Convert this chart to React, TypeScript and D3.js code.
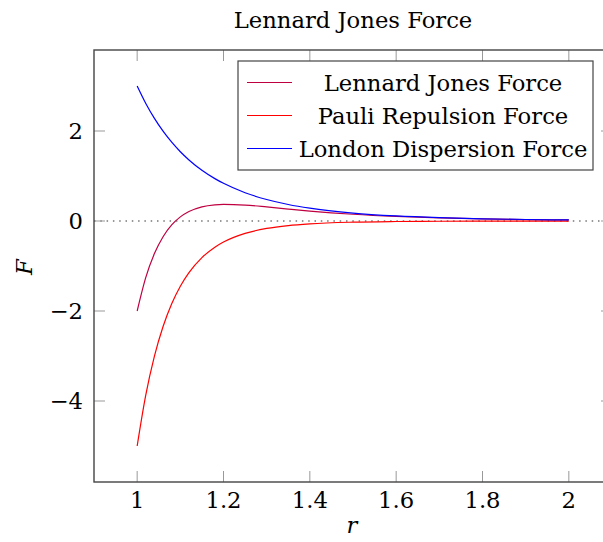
import React, {useEffect, useRef} from 'react';
import * as d3 from 'd3';

const rValues = [1.00, 1.02, 1.04, 1.06, 1.08, 1.10, 1.12, 1.15, 1.18, 1.20, 1.25, 1.30, 1.35, 1.40, 1.50, 1.60, 1.70, 1.80, 1.90, 2.00];
const ljForce = [-2.0, -1.2535, -0.7231, -0.349, -0.088, 0.0912, 0.2112, 0.3152, 0.3604, 0.3699, 0.3542, 0.313, 0.266, 0.2216, 0.1499, 0.1007, 0.0681, 0.0466, 0.0324, 0.0228];
const pauliForce = [-5.0, -3.8651, -3.0029, -2.3442, -1.8385, -1.4483, -1.1459, -0.8126, -0.5814, -0.4673, -0.2749, -0.1651, -0.1011, -0.063, -0.0257, -0.0111, -0.005, -0.0024, -0.0012, -0.0006];
const londonForce = [3.0, 2.6117, 2.2798, 1.9952, 1.7505, 1.5395, 1.3571, 1.1278, 0.9418, 0.8372, 0.6291, 0.4781, 0.3671, 0.2846, 0.1756, 0.1118, 0.0731, 0.049, 0.0336, 0.0234];

const seriesNames = ['Lennard Jones Force', 'Pauli Repulsion Force', 'London Dispersion Force'];
const seriesColors = ['#bf0040', '#ff0000', '#0000ff'];
const xTicks = [1, 1.2, 1.4, 1.6, 1.8, 2];
const yTicks = [-4, -2, 0, 2];

const FONT = 'DejaVu Serif';
const FS = 22.7;

function LennardJonesChart() {
    const node = useRef(null);

    useEffect(() => {
        const svg = d3.select(node.current);
        svg.selectAll('*').remove();

        const left = 94, right = 612, top = 50, bottom = 482;
        const x = d3.scaleLinear().domain([0.9, 2.1]).range([left, right]);
        const y = d3.scaleLinear().domain([-5.8, 3.8]).range([bottom, top]);

        const label = (sel, size = FS) => sel
            .attr('font-family', FONT)
            .attr('font-size', size)
            .attr('fill', '#000');

        // zero line
        svg.append('line')
            .attr('x1', left).attr('x2', right)
            .attr('y1', y(0)).attr('y2', y(0))
            .style('stroke', '#777')
            .style('stroke-width', 1.5)
            .style('stroke-dasharray', '1.5 4.8');

        const line = d3.line()
            .x(d => x(d[0]))
            .y(d => y(d[1]))
            .curve(d3.curveMonotoneX);

        [ljForce, pauliForce, londonForce].forEach((vals, i) => {
            svg.append('path')
                .datum(rValues.map((r, j) => [r, vals[j]]))
                .attr('d', line)
                .style('fill', 'none')
                .style('stroke', seriesColors[i])
                .style('stroke-width', 1.2);
        });

        // ticks, inward on all four sides
        const tickLen = 11;
        xTicks.forEach(t => {
            svg.append('line').attr('x1', x(t)).attr('x2', x(t)).attr('y1', bottom).attr('y2', bottom - tickLen)
                .style('stroke', '#999').style('stroke-width', 1);
            svg.append('line').attr('x1', x(t)).attr('x2', x(t)).attr('y1', top).attr('y2', top + tickLen)
                .style('stroke', '#999').style('stroke-width', 1);
            svg.append('text')
                .attr('x', x(t)).attr('y', 508)
                .attr('text-anchor', 'middle')
                .call(label)
                .text(t);
        });
        yTicks.forEach(t => {
            svg.append('line').attr('x1', left).attr('x2', left + tickLen).attr('y1', y(t)).attr('y2', y(t))
                .style('stroke', '#999').style('stroke-width', 1);
            svg.append('line').attr('x1', right).attr('x2', right - tickLen).attr('y1', y(t)).attr('y2', y(t))
                .style('stroke', '#999').style('stroke-width', 1);
            svg.append('text')
                .attr('x', 83).attr('y', y(t) + 8.2)
                .attr('text-anchor', 'end')
                .call(label)
                .text(t < 0 ? '\u2212' + Math.abs(t) : String(t));
        });

        // frame
        svg.append('rect')
            .attr('x', left).attr('y', top)
            .attr('width', right - left).attr('height', bottom - top)
            .style('fill', 'none').style('stroke', '#444').style('stroke-width', 1.4);

        // legend
        const lg = svg.append('g');
        lg.append('rect')
            .attr('x', 238).attr('y', 61).attr('width', 355).attr('height', 109)
            .style('fill', '#fff').style('stroke', '#444').style('stroke-width', 1.2);
        seriesNames.forEach((name, i) => {
            const cy = 82.5 + i * 33;
            lg.append('line').attr('x1', 247).attr('x2', 292).attr('y1', cy).attr('y2', cy)
                .style('stroke', seriesColors[i]).style('stroke-width', 1.2);
            lg.append('text')
                .attr('x', 443).attr('y', cy + 8)
                .attr('text-anchor', 'middle')
                .call(label)
                .text(name);
        });

        // title and axis labels
        svg.append('text')
            .attr('x', 353).attr('y', 28)
            .attr('text-anchor', 'middle')
            .call(label)
            .text('Lennard Jones Force');
        svg.append('text')
            .attr('x', 352).attr('y', 533)
            .attr('text-anchor', 'middle')
            .call(label)
            .attr('font-style', 'italic')
            .text('r');
        svg.append('text')
            .attr('transform', 'translate(32, 267) rotate(-90)')
            .attr('text-anchor', 'middle')
            .call(label)
            .attr('font-style', 'italic')
            .text('F');
    }, []);

    return <svg ref={node} width={603} height={542}
                style={{position: 'absolute', left: 0, top: 0, background: '#fff'}}/>;
}

export default function App() {
    return <LennardJonesChart/>;
}
